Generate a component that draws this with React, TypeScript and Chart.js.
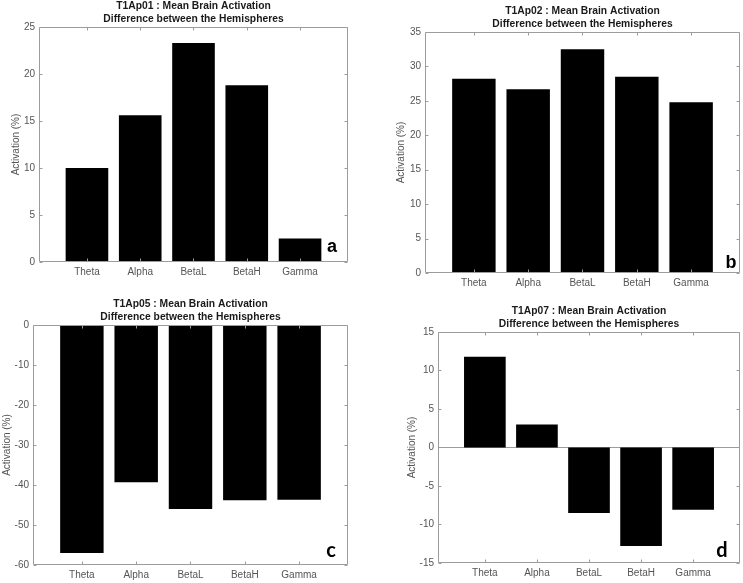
import React, { useEffect, useRef } from "react";
import { Chart, registerables } from "chart.js";

Chart.register(...registerables);

// ---- data ----
const bands = ["Theta", "Alpha", "BetaL", "BetaH", "Gamma"];
const bandPositions = [1, 2, 3, 4, 5];

const subjects = ["T1Ap01", "T1Ap02", "T1Ap05", "T1Ap07"];
const titleSuffix = " : Mean Brain Activation";
const subtitle = "Difference between the Hemispheres";
const yLabel = "Activation (%)";
const panelLetters = ["a", "b", "c", "d"];

const valuesA = [10.0, 15.6, 23.3, 18.8, 2.5];
const valuesB = [28.2, 26.7, 32.5, 28.5, 24.8];
const valuesC = [-57.0, -39.3, -46.0, -43.8, -43.7];
const valuesD = [11.8, 3.0, -8.5, -12.8, -8.1];

const yTicksA = [0, 5, 10, 15, 20, 25];
const yTicksB = [0, 5, 10, 15, 20, 25, 30, 35];
const yTicksC = [-60, -50, -40, -30, -20, -10, 0];
const yTicksD = [-15, -10, -5, 0, 5, 10, 15];

// ---- layout / style ----
const FONT = '"Liberation Sans", Arial, sans-serif';
const LABEL_COLOR = "#555555";
const AXIS_COLOR = "#9c9c9c";

type PanelCfg = {
  subject: string;
  values: number[];
  yTicks: number[];
  letter: string;
  left: number;
  top: number;
  w: number;
  h: number;
  plot: { l: number; r: number; t: number; b: number };
  yTitleX: number;
  letterFont: string;
  letterDx: number;
  letterDy: number;
};

const panels: PanelCfg[] = [
  {
    subject: subjects[0], values: valuesA, yTicks: yTicksA, letter: panelLetters[0],
    left: 0, top: 0, w: 372, h: 290, plot: { l: 39, r: 348, t: 27, b: 262 },
    yTitleX: 16, letterFont: `bold 18px ${FONT}`, letterDx: 16, letterDy: 10,
  },
  {
    subject: subjects[1], values: valuesB, yTicks: yTicksB, letter: panelLetters[1],
    left: 372, top: 0, w: 371, h: 290, plot: { l: 53, r: 368, t: 32, b: 273 },
    yTitleX: 29, letterFont: `bold 18px ${FONT}`, letterDx: 9, letterDy: 5,
  },
  {
    subject: subjects[2], values: valuesC, yTicks: yTicksC, letter: panelLetters[2],
    left: 0, top: 290, w: 372, h: 293, plot: { l: 33, r: 348, t: 35, b: 275 },
    yTitleX: 7, letterFont: `bold 20px Lato, "Open Sans", sans-serif`, letterDx: 17, letterDy: 8,
  },
  {
    subject: subjects[3], values: valuesD, yTicks: yTicksD, letter: panelLetters[3],
    left: 372, top: 290, w: 371, h: 293, plot: { l: 66, r: 368, t: 42, b: 273 },
    yTitleX: 40, letterFont: `bold 20px Lato, "Open Sans", sans-serif`, letterDx: 18, letterDy: 6,
  },
];

const framePlugin = {
  id: "frame",
  beforeDatasetsDraw(chart: any) {
    const { ctx, chartArea: a, scales } = chart;
    const y0 = scales.y.getPixelForValue(0);
    if (y0 > a.top + 1 && y0 < a.bottom - 1) {
      ctx.save();
      ctx.strokeStyle = AXIS_COLOR;
      ctx.lineWidth = 1;
      ctx.beginPath();
      const yy = Math.round(y0) + 0.5;
      ctx.moveTo(a.left, yy);
      ctx.lineTo(a.right, yy);
      ctx.stroke();
      ctx.restore();
    }
  },
  afterDraw(chart: any, _args: any, opts: any) {
    const { ctx, chartArea: a, scales } = chart;
    ctx.save();
    ctx.strokeStyle = AXIS_COLOR;
    ctx.lineWidth = 1;
    const L = Math.round(a.left) + 0.5;
    const R = Math.round(a.right) - 0.5;
    const T = Math.round(a.top) + 0.5;
    const B = Math.round(a.bottom) - 0.5;
    ctx.beginPath();
    ctx.rect(L, T, R - L, B - T);
    const tl = 3;
    for (const t of scales.y.ticks) {
      const p = Math.round(scales.y.getPixelForValue(t.value)) + 0.5;
      ctx.moveTo(L, p);
      ctx.lineTo(L + tl, p);
      ctx.moveTo(R, p);
      ctx.lineTo(R - tl, p);
    }
    for (const t of scales.x.ticks) {
      const p = Math.round(scales.x.getPixelForValue(t.value)) + 0.5;
      ctx.moveTo(p, B);
      ctx.lineTo(p, B - tl);
      ctx.moveTo(p, T);
      ctx.lineTo(p, T + tl);
    }
    ctx.stroke();
    if (opts && opts.letter) {
      ctx.fillStyle = "#000";
      ctx.font = opts.font;
      ctx.textAlign = "center";
      ctx.textBaseline = "alphabetic";
      ctx.fillText(opts.letter, a.right - opts.dx, a.bottom - opts.dy);
    }
    ctx.restore();
  },
};

function Panel({ cfg }: { cfg: PanelCfg }) {
  const ref = useRef<HTMLCanvasElement | null>(null);
  useEffect(() => {
    if (!ref.current) return;
    const p = cfg;
    const chart = new Chart(ref.current, {
      type: "bar",
      data: {
        datasets: [
          {
            data: p.values.map((v, i) => ({ x: bandPositions[i], y: v })),
            backgroundColor: "#000000",
            borderWidth: 0,
            barPercentage: 1,
            categoryPercentage: 0.8,
          } as any,
        ],
      },
      options: {
        responsive: false,
        animation: false,
        devicePixelRatio: 1,
        layout: { padding: { top: p.plot.t - 27, right: p.w - p.plot.r, bottom: 0, left: 0 } },
        plugins: {
          legend: { display: false },
          tooltip: { enabled: false },
          title: {
            display: true,
            text: [p.subject + titleSuffix, subtitle],
            fullSize: false,
            color: "#1a1a1a",
            font: { family: FONT, size: 10.3, weight: "bold", lineHeight: 1.262 },
            padding: { top: 0, bottom: 1 },
          },
          frame: { letter: p.letter, font: p.letterFont, dx: p.letterDx, dy: p.letterDy },
        } as any,
        scales: {
          x: {
            type: "linear",
            min: 0.1,
            max: 5.9,
            offset: false,
            afterBuildTicks: (s: any) => {
              s.ticks = bandPositions.map((v) => ({ value: v }));
            },
            afterFit: (s: any) => {
              s.height = p.h - p.plot.b;
            },
            ticks: {
              callback: (v: any) => bands[bandPositions.indexOf(Number(v))],
              color: LABEL_COLOR,
              font: { family: FONT, size: 10 },
              padding: 4,
              maxRotation: 0,
              autoSkip: false,
            },
            grid: { display: false, drawTicks: false, offset: false },
            border: { display: false },
          },
          y: {
            type: "linear",
            min: p.yTicks[0],
            max: p.yTicks[p.yTicks.length - 1],
            afterBuildTicks: (s: any) => {
              s.ticks = p.yTicks.map((v) => ({ value: v }));
            },
            afterFit: (s: any) => {
              s.width = p.plot.l;
            },
            ticks: {
              color: LABEL_COLOR,
              font: { family: FONT, size: 10 },
              padding: 4,
            },
            grid: { display: false, drawTicks: false },
            border: { display: false },
            title: {
              display: true,
              text: yLabel,
              color: LABEL_COLOR,
              font: { family: FONT, size: 10, lineHeight: 1.2 },
              padding: { top: p.yTitleX - 6, bottom: 0 },
            },
          },
        } as any,
      },
      plugins: [framePlugin as any],
    });
    return () => chart.destroy();
  }, [cfg]);

  return (
    <canvas
      ref={ref}
      width={cfg.w}
      height={cfg.h}
      style={{ position: "absolute", left: cfg.left, top: cfg.top, width: cfg.w, height: cfg.h }}
    />
  );
}

export default function App() {
  return (
    <div
      style={{
        position: "absolute",
        left: 0,
        top: 0,
        width: 743,
        height: 583,
        background: "#ffffff",
        overflow: "hidden",
      }}
    >
      {panels.map((cfg) => (
        <Panel key={cfg.letter} cfg={cfg} />
      ))}
    </div>
  );
}
